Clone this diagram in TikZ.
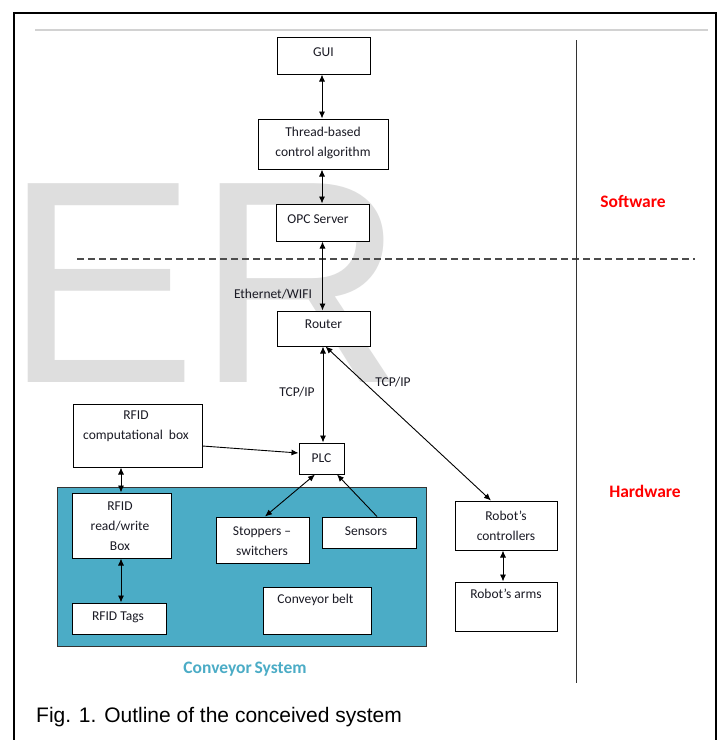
\documentclass[tikz,border=0pt]{standalone}
\usepackage{fontspec}
\setmainfont{Carlito}
\newfontfamily\arialfont{Liberation Sans}
\usetikzlibrary{arrows.meta}
\definecolor{convfill}{HTML}{4BACC6}
\definecolor{convtext}{HTML}{4BACC6}
\definecolor{wmgray}{HTML}{DEDEDE}
\definecolor{boxtext}{HTML}{1A1A24}
\definecolor{layerred}{HTML}{FF0000}
\begin{document}
\begin{tikzpicture}[x=1pt,y=-1pt,
  box/.style={draw=black, line width=1pt, fill=white, inner sep=0pt},
  txt/.style={font=\fontsize{13.5}{20}\selectfont, text=boxtext, align=center, inner sep=0pt},
  layer/.style={font=\bfseries\fontsize{17.5}{20}\selectfont, text=layerred, inner sep=0pt},
  dbl/.style={{Latex[length=7pt,width=6pt]}-{Latex[length=7pt,width=6pt]}, line width=0.9pt},
  one/.style={-{Latex[length=7pt,width=6pt]}, line width=0.9pt}]
\useasboundingbox (0,0) rectangle (718,740);
\fill[white] (0,0) rectangle (718,740);

% page frame and header rule
\draw[line width=2.5pt] (14,740) -- (14,13) -- (716,13) -- (716,740);
\draw[gray!35, line width=2.5pt] (35,30) -- (708,30);

% watermark letters
\node[anchor=base west, inner sep=0pt, text=wmgray] (wm) at (4,382)
  {\arialfont\fontsize{289}{289}\selectfont ER};

% separators between software and hardware
\draw[black!70, line width=1.2pt, dash pattern=on 7pt off 4pt] (77,259) -- (695,259);
\draw[black!80, line width=1pt] (576,40) -- (576,683);
\node[layer] (sw) at (633,201) {Software};
\node[layer] (hw) at (645,491) {Hardware};

% conveyor system area
\node[draw=black!80, line width=1pt, fill=convfill, minimum width=369pt, minimum height=159pt, inner sep=0pt] (conv) at (241.5,566.5) {};
\node[font=\bfseries\fontsize{17.5}{20}\selectfont, text=convtext, inner sep=0pt] (convlbl) at (245,669) {Conveyor\kern-1pt\ System};

% software boxes
\node[box, minimum width=93pt, minimum height=37pt] (gui) at (323.5,55.5) {};
\node[txt] (guiT) at (323.5,52) {GUI};
\node[box, minimum width=130pt, minimum height=50pt] (thread) at (323,144) {};
\node[txt] (threadT) at (323,143) {Thread-based\\control algorithm};
\node[box, minimum width=93pt, minimum height=37pt] (opc) at (322.5,222.5) {};
\node[txt] (opcT) at (318,219) {OPC Server};

% hardware boxes
\node[box, minimum width=93pt, minimum height=35pt] (router) at (323.5,328.5) {};
\node[txt] (routerT) at (323.5,324) {Router};
\node[box, minimum width=45pt, minimum height=31pt] (plc) at (321.5,458.5) {};
\node[txt] (plcT) at (321.5,458) {PLC};
\node[box, minimum width=129pt, minimum height=63pt] (rfidc) at (137.5,435.5) {};
\node[txt] (rfidcT) at (136,426.5) {RFID\\computational\ \ box};
\node[box, minimum width=99pt, minimum height=65pt] (rfidrw) at (121.5,525.5) {};
\node[txt] (rfidrwT) at (120,526) {RFID\\read/write\\Box};
\node[box, minimum width=94pt, minimum height=31pt] (tags) at (119,618.5) {};
\node[txt] (tagsT) at (118,617) {RFID Tags};
\node[box, minimum width=93pt, minimum height=46pt] (stop) at (262.5,540) {};
\node[txt] (stopT) at (262,541) {Stoppers --\\switchers};
\node[box, minimum width=94pt, minimum height=31pt] (sens) at (369,532.5) {};
\node[txt] (sensT) at (366,531) {Sensors};
\node[box, minimum width=108pt, minimum height=47pt] (belt) at (317,610.5) {};
\node[txt] (beltT) at (315.5,600) {Conveyor belt};
\node[box, minimum width=102pt, minimum height=49pt] (rc) at (506,525.5) {};
\node[txt] (rcT) at (506,525.5) {Robot’s\\controllers};
\node[box, minimum width=102pt, minimum height=49pt] (ra) at (506,606.5) {};
\node[txt] (raT) at (506,594) {Robot’s arms};

% links
\draw[dbl] ([xshift=-1.5pt]gui.south) -- ([xshift=-1.5pt]gui.south |- thread.north);
\draw[dbl] ([xshift=-1pt]thread.south) -- ([xshift=-1pt]thread.south |- opc.north);
\draw[dbl] (opc.south) -- (opc.south |- router.north);
\draw[dbl] ([xshift=-0.5pt]router.south) -- ([xshift=-0.5pt]router.south |- plc.north);
\draw[dbl] ([xshift=2pt]router.south) -- ([xshift=-15pt]rc.north);
\draw[one] ([yshift=-10.5pt]rfidc.east) -- ([yshift=5.5pt]plc.west);
\draw[dbl] ([xshift=-0.5pt]rfidrw.north) -- ([xshift=-0.5pt]rfidrw.north |- rfidc.south);
\draw[dbl] ([xshift=-0.5pt]rfidrw.south) -- ([xshift=-0.5pt]rfidrw.south |- tags.north);
\draw[dbl] ([xshift=2.5pt]stop.north) -- ([xshift=-6.5pt]plc.south);
\draw[one] ([xshift=8pt]sens.north) -- ([xshift=15.5pt]plc.south);
\draw[dbl] ([xshift=-3pt]rc.south) -- ([xshift=-3pt]rc.south |- ra.north);

% link labels
\node[txt] (ethT) at (273,294) {Ethernet/WIFI};
\node[txt] (tcp1) at (297,392) {TCP/IP};
\node[txt] (tcp2) at (393,382) {TCP/IP};

% caption
\node[anchor=base west, inner sep=0pt, font=\arialfont\fontsize{21}{24}\selectfont] (cap) at (36,722)
  {Fig. 1. Outline of the conceived system};
\end{tikzpicture}
\end{document}
